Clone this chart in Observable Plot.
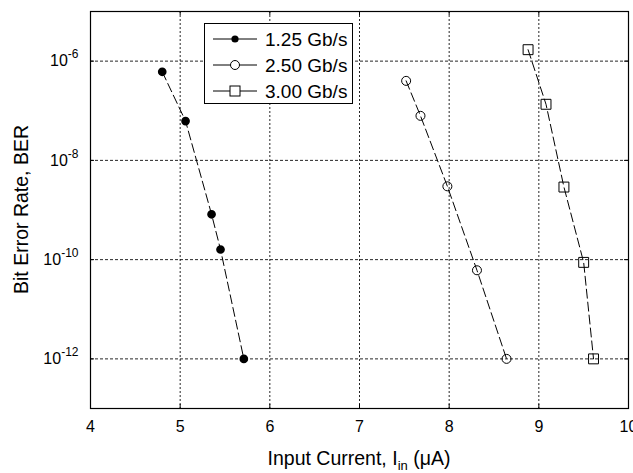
<!DOCTYPE html>
<html>
<head>
<meta charset="utf-8">
<script src="https://cdn.jsdelivr.net/npm/d3@7"></script>
<script src="https://cdn.jsdelivr.net/npm/@observablehq/plot@0.6"></script>
<style>
  html, body { margin: 0; padding: 0; background: #fff; }
  svg { font-family: "Liberation Sans", Arial, Helvetica, sans-serif; }
</style>
</head>
<body>
<div id="chart"></div>
<script>
// ---- data ----
const seriesNames = ["1.25 Gb/s", "2.50 Gb/s", "3.00 Gb/s"];
const rate125_current = [4.80, 5.06, 5.35, 5.45, 5.71];
const rate125_ber     = [6.1e-7, 6.2e-8, 8.2e-10, 1.6e-10, 1e-12];
const rate250_current = [7.52, 7.68, 7.98, 8.31, 8.64];
const rate250_ber     = [4.0e-7, 7.9e-8, 3.0e-9, 6.1e-11, 1e-12];
const rate300_current = [8.88, 9.08, 9.28, 9.50, 9.61];
const rate300_ber     = [1.7e-6, 1.35e-7, 2.9e-9, 8.8e-11, 1e-12];
const xTicks = [4, 5, 6, 7, 8, 9, 10];
const yTicks = [1e-6, 1e-8, 1e-10, 1e-12];

const toRows = (name, xs, ys) => xs.map((x, i) => ({series: name, x, y: ys[i]}));
const s125 = toRows(seriesNames[0], rate125_current, rate125_ber);
const s250 = toRows(seriesNames[1], rate250_current, rate250_ber);
const s300 = toRows(seriesNames[2], rate300_current, rate300_ber);
const all = [...s125, ...s250, ...s300];

const W = 633, H = 473, mT = 11, mB = 65, mL = 90, mR = 5;
const innerH = H - mT - mB;

const chart = Plot.plot({
  width: W, height: H,
  marginLeft: mL, marginRight: mR, marginTop: mT, marginBottom: mB,
  style: {fontFamily: '"Liberation Sans", Arial, sans-serif', background: "#fff", color: "#000"},
  x: {domain: [4, 10]},
  y: {type: "log", domain: [1e-13, 1e-5]},
  marks: [
    Plot.gridX(xTicks.slice(1, -1), {stroke: "#000", strokeOpacity: 0.85, strokeWidth: 1, strokeDasharray: "2,2"}),
    Plot.gridY(yTicks, {stroke: "#000", strokeOpacity: 0.85, strokeWidth: 1, strokeDasharray: "3,2"}),
    Plot.tickX(xTicks, {x: d => d, insetTop: innerH - 4, stroke: "#000"}),
    Plot.tickX(xTicks, {x: d => d, insetBottom: innerH - 4, stroke: "#000"}),
    Plot.tickY(yTicks, {y: d => d, insetRight: (W - mL - mR) - 4, stroke: "#000"}),
    Plot.tickY(yTicks, {y: d => d, insetLeft: (W - mL - mR) - 4, stroke: "#000"}),
    Plot.frame({stroke: "#000", strokeWidth: 1.2}),
    Plot.axisX(xTicks, {tickSize: 0, tickPadding: 12, fontSize: 16, label: null}),
    Plot.axisY(yTicks, {tickSize: 0, tickPadding: 12, fontSize: 16, label: null,
      tickFormat: d => String(Math.round(Math.log10(d)))}),
    Plot.line(all, {x: "x", y: "y", z: "series", stroke: "#000", strokeWidth: 1, strokeDasharray: "9,4"}),
    Plot.dot(s125, {x: "x", y: "y", r: 3.6, fill: "#000", stroke: "#000"}),
    Plot.dot(s250, {x: "x", y: "y", r: 4.5, fill: "none", stroke: "#000", strokeWidth: 1}),
    Plot.dot(s300, {x: "x", y: "y", r: 5.6, symbol: "square", fill: "none", stroke: "#000", strokeWidth: 1})
  ]
});

document.getElementById("chart").appendChild(chart);
const svg = d3.select(chart);

// superscript exponents on y tick labels
svg.selectAll('g[aria-label="y-axis tick label"] text').each(function() {
  const t = d3.select(this);
  const e = t.text();
  t.text(null);
  t.append("tspan").text("10");
  t.append("tspan").attr("dy", "-8").attr("font-size", 12).text(e.replace("−", "-"));
});

// x-axis label with subscript
const xl = svg.append("text")
  .attr("x", (mL + W - mR) / 2).attr("y", 465)
  .attr("text-anchor", "middle").attr("font-size", 19.5).attr("fill", "#000");
xl.append("tspan").text("Input Current, I");
xl.append("tspan").attr("dy", 5).attr("font-size", 13).text("in");
xl.append("tspan").attr("dy", -5).text(" (\u03BCA)");

// y-axis label
svg.append("text")
  .attr("transform", `translate(28,${mT + innerH / 2}) rotate(-90)`)
  .attr("text-anchor", "middle").attr("font-size", 19.5).attr("fill", "#000")
  .text("Bit Error Rate, BER");

// legend
const lg = svg.append("g");
lg.append("rect").attr("x", 204.5).attr("y", 23.5).attr("width", 148).attr("height", 80)
  .attr("fill", "#fff").attr("stroke", "#000").attr("stroke-width", 1);
const rowsY = [39, 65, 91];
seriesNames.forEach((name, i) => {
  const y = rowsY[i];
  lg.append("line").attr("x1", 213).attr("x2", 257).attr("y1", y).attr("y2", y)
    .attr("stroke", "#000").attr("stroke-width", 1);
  if (i === 0) lg.append("circle").attr("cx", 235).attr("cy", y).attr("r", 3.6).attr("fill", "#000");
  if (i === 1) lg.append("circle").attr("cx", 235).attr("cy", y).attr("r", 4.5).attr("fill", "#fff").attr("stroke", "#000");
  if (i === 2) lg.append("rect").attr("x", 230).attr("y", y - 5).attr("width", 10).attr("height", 10).attr("fill", "#fff").attr("stroke", "#000");
  lg.append("text").attr("x", 265).attr("y", y).attr("dy", "0.35em")
    .attr("text-anchor", "start")
    .attr("font-size", 19).attr("fill", "#000").text(name);
});
</script>
</body>
</html>
